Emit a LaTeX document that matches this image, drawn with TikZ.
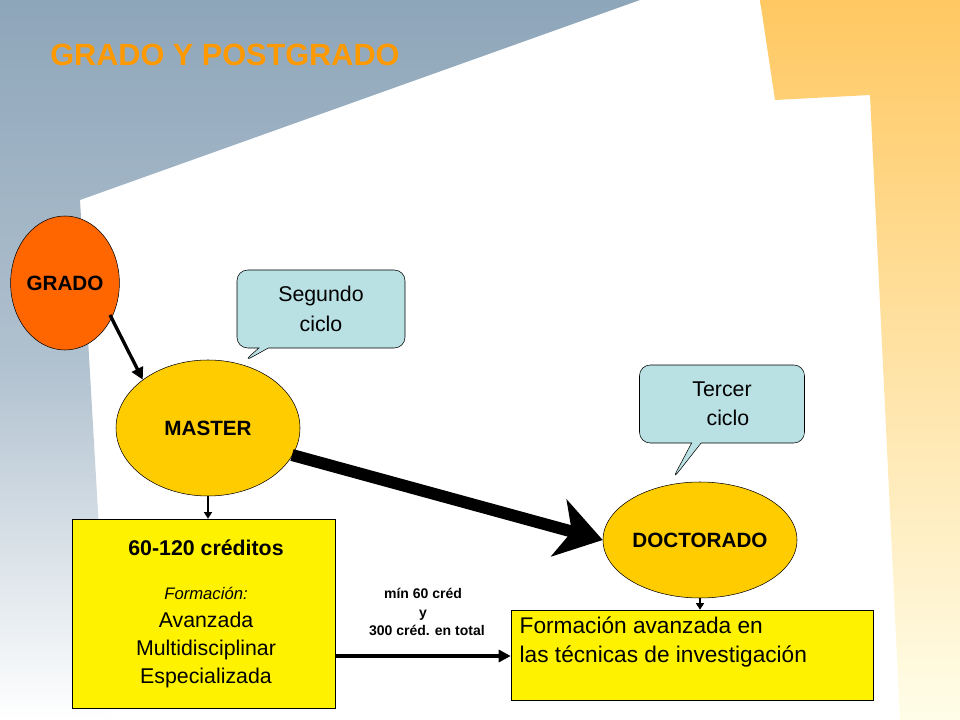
\documentclass[tikz,border=0pt]{standalone}
\usepackage{fontspec}
\setmainfont{Liberation Sans}
\usetikzlibrary{shapes.geometric,shapes.callouts,arrows.meta}
\definecolor{bgblue}{HTML}{8EA6BA}
\definecolor{ttl}{HTML}{FF9900}
\definecolor{grado}{HTML}{FF6600}
\definecolor{gold}{HTML}{FFCC00}
\definecolor{callc}{HTML}{B9E1E4}
\definecolor{orng}{HTML}{FFC862}
\definecolor{lyel}{HTML}{FFFDE8}
\tikzset{
 ell/.style={ellipse,draw=black,thin,font=\bfseries\fontsize{15.5}{18}\selectfont},
 call/.style={rectangle callout,rounded corners=8pt,draw=black,thin,fill=callc,align=center,font=\fontsize{16}{22}\selectfont},
 ybox/.style={draw=black,thin,fill=yellow},
 arr/.style={-{Triangle[length=9pt,width=9pt]},line width=2.5pt}
}
\begin{document}
\begin{tikzpicture}[x=0.75pt,y=-0.75pt]
\useasboundingbox (0,0) rectangle (960,720);
\fill[white] (0,0) rectangle (960,720);
\shade[top color=bgblue,bottom color=white,middle color=bgblue!70] (0,0)--(640,0)--(80,200)--(110,720)--(0,720)--cycle;
\shade[top color=orng,bottom color=lyel] (760,0)--(960,0)--(960,720)--(900,720)--(870,95)--(775,100)--cycle;
\node[anchor=west,text=ttl,font=\bfseries\fontsize{23}{26}\selectfont,inner sep=0pt] (title) at (50,55) {GRADO Y POSTGRADO};
\node[ell,fill=grado,minimum width=90*0.75pt,minimum height=134*0.75pt,inner sep=0pt] (grado) at (65,283) {GRADO};
\node[ell,fill=gold,minimum width=184*0.75pt,minimum height=136*0.75pt,inner sep=0pt] (master) at (208,428) {MASTER};
\node[ell,fill=gold,minimum width=194*0.75pt,minimum height=116*0.75pt,inner sep=0pt] (doc) at (700,540) {DOCTORADO};
\node[call,minimum width=168*0.75pt,minimum height=78*0.75pt,callout absolute pointer={(243,362)}] (seg) at (321,309) {Segundo\\ciclo};
\node[call,minimum width=165*0.75pt,minimum height=78*0.75pt,callout absolute pointer={(672,480)}] (ter) at (722,404) {Tercer\\\ \ ciclo};
\node[ybox,minimum width=263*0.75pt,minimum height=189*0.75pt,inner sep=0pt] (cred) at (203.5,613.5) {};
\node[align=center,font=\fontsize{16}{21}\selectfont] (credt) at (206,614) {\textbf{60-120 créditos}\\[12pt]{\itshape\fontsize{12.5}{15}\selectfont Formación:}\\Avanzada\\Multidisciplinar\\Especializada};
\node[ybox,minimum width=362*0.75pt,minimum height=90*0.75pt,inner sep=0pt] (form) at (692,655) {};
\node[anchor=north west,align=left,font=\fontsize{17}{22}\selectfont] (formt) at (515,612) {Formación avanzada en\\las técnicas de investigación};
\node[align=center,font=\bfseries\fontsize{10.5}{14}\selectfont] (min) at (423,612) {mín 60 créd\\y\\\ \ 300 créd. en total};
\draw[arr] (110,315) -- (master.north west) ;
\draw[-{Stealth[length=34pt,width=44pt,inset=10pt]},line width=9pt] (292,455) -- (doc.west);
\draw[-{Triangle[length=5pt,width=6pt]},line width=1.2pt] (master.south) -- (cred.north -| master.south);
\draw[-{Triangle[length=5pt,width=6pt]},line width=1.2pt] (doc.south) -- (form.north -| doc.south);
\draw[-{Triangle[length=9pt,width=9pt]},line width=3pt] (cred.east |- 0,656) -- (form.west |- 0,656);
\end{tikzpicture}
\end{document}
